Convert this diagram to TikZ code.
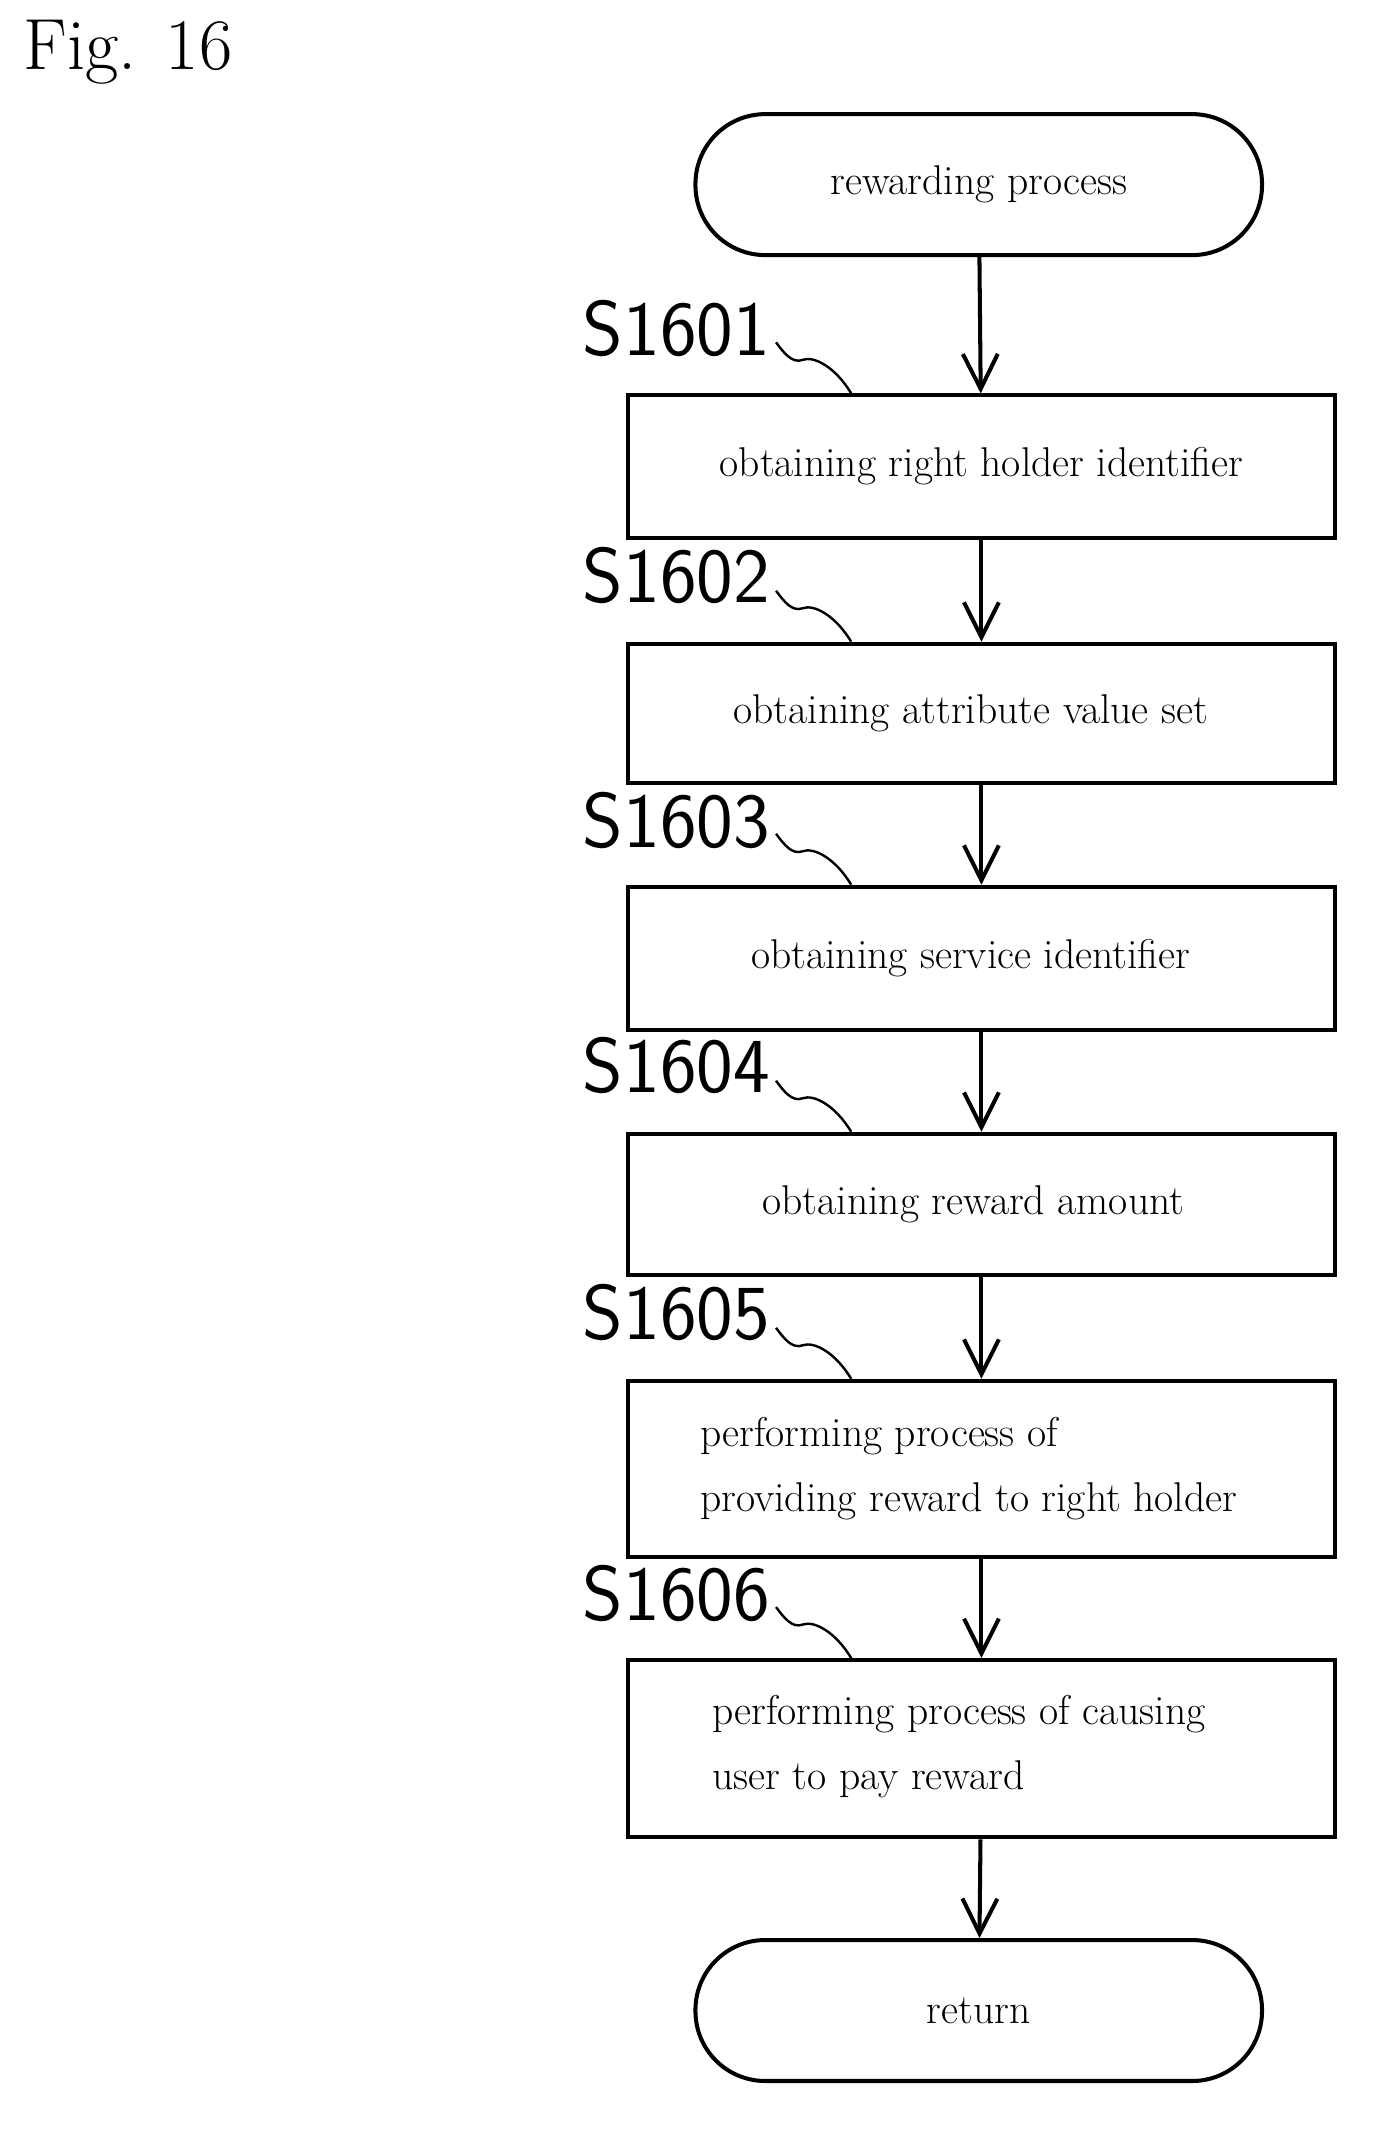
\documentclass[tikz,border=0pt]{standalone}
\usetikzlibrary{arrows.meta}
\begin{document}
\begin{tikzpicture}[x=1pt,y=-1pt,
  box/.style={draw,line width=3pt,minimum width=527pt,anchor=north west},
  txt/.style={font=\fontsize{31}{48}\selectfont,align=left},
  term/.style={draw,line width=3pt,rounded corners=52pt,minimum width=422pt,minimum height=105pt,font=\fontsize{31}{40}\selectfont},
  arr/.style={line width=3pt,-{Straight Barb[length=26pt,width=26pt,line width=3pt]}},
  lab/.style={font=\sffamily\fontsize{58}{58}\selectfont,anchor=base east},
  sq/.style={line width=1.8pt}]
\useasboundingbox (0,0) rectangle (1024,1588);
\node[anchor=base west,font=\fontsize{54}{54}\selectfont] (fig) at (14,52) {Fig. 16};
\node[term] (start) at (729,137.5) {rewarding process};
\node[box,minimum height=106pt] (b1) at (466,293) {};
\node[txt] at (b1.center) {obtaining right holder identifier};
\node[box,minimum height=104pt] (b2) at (466,478) {};
\node[txt] at ([xshift=-8pt]b2.center) {obtaining attribute value set};
\node[box,minimum height=107pt] (b3) at (466,659) {};
\node[txt] at ([xshift=-8pt]b3.center) {obtaining service identifier};
\node[box,minimum height=105pt] (b4) at (466,843) {};
\node[txt] at ([xshift=-6pt]b4.center) {obtaining reward amount};
\node[box,minimum height=131pt] (b5) at (466,1027) {};
\node[txt,anchor=west] at (518,1094) {performing process of\\providing reward to right holder};
\node[box,minimum height=132pt] (b6) at (466,1235) {};
\node[txt,anchor=west] at (527,1301) {performing process of causing\\user to pay reward};
\node[term] (end) at (729,1497.5) {return};
\draw[arr] (start) -- (b1);
\draw[arr] (b1) -- (b2);
\draw[arr] (b2) -- (b3);
\draw[arr] (b3) -- (b4);
\draw[arr] (b4) -- (b5);
\draw[arr] (b5) -- (b6);
\draw[arr] (b6) -- (end);
\foreach \n/\y/\t in {l1/265/S1601,l2/449/S1602,l3/631/S1603,l4/814/S1604,l5/998/S1605,l6/1207/S1606}{
  \node[lab] (\n) at (577,\y) {\t};
}
\foreach \y/\n in {293/l1,478/l2,659/l3,843/l4,1027/l5,1235/l6}{
  \draw[sq] (578,\y-38) .. controls (584,\y-30) and (590,\y-22) .. (598,\y-25) .. controls (606,\y-28) and (622,\y-20) .. (634,\y);
}
\end{tikzpicture}
\end{document}
